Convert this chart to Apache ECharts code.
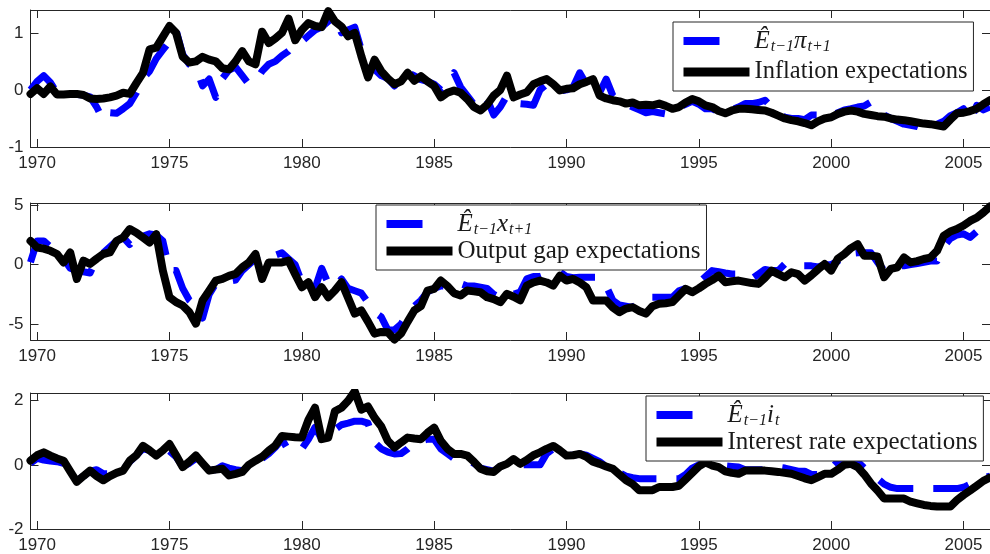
<!DOCTYPE html>
<html>
<head>
<meta charset="utf-8">
<script src="https://cdn.jsdelivr.net/npm/echarts@6/dist/echarts.min.js"></script>
<style>
  html, body { margin: 0; padding: 0; background: #fff; }
  #chart { width: 990px; height: 554px; }
</style>
</head>
<body>
<div id="chart"></div>
<script>
// quarterly observations, first one is 1969Q4 (1969.75), last 2006.0
const startYear = 1969.75;
const yearTicks = [1970, 1975, 1980, 1985, 1990, 1995, 2000, 2005];

// panel 1 : inflation
const infLag = [
  0.0,
  0.15, 0.25, 0.13, -0.05,
  -0.07, -0.08, -0.08, -0.09,
  -0.12, -0.3, -0.53, -0.4,
  -0.41, -0.33, -0.24, -0.05,
  0.2, 0.33, 0.55, 0.7,
  0.85, 1.05, 0.62, 0.45,
  0.4, 0.07, 0.19, -0.13,
  0.2, 0.35, 0.4, 0.25,
  0.1, 0.15, 0.33, 0.45,
  0.5, 0.6, 0.68, 0.82,
  0.85, 0.95, 1.05, 1.1,
  1.2, 1.3, 1.0, 1.05,
  1.1, 0.7, 0.5, 0.36,
  0.25, 0.2, 0.07, 0.2,
  0.3, 0.25, 0.18, 0.15,
  0.1, 0.0, 0.1, 0.3,
  0.05, -0.1, -0.25, -0.3,
  -0.16, -0.44, -0.3, -0.1,
  -0.2, -0.24, -0.25, -0.27,
  0.0, 0.1, 0.05, -0.02,
  0.0, 0.05, 0.3, 0.1,
  0.1, -0.05, 0.19, -0.1,
  -0.22, -0.25, -0.3, -0.35,
  -0.4, -0.38, -0.4, -0.42,
  -0.38, -0.3, -0.25, -0.2,
  -0.25, -0.33, -0.33, -0.38,
  -0.4, -0.35, -0.3, -0.24,
  -0.24, -0.22, -0.18, -0.3,
  -0.4, -0.48, -0.5, -0.5,
  -0.52, -0.44, -0.44, -0.44,
  -0.45, -0.4, -0.35, -0.33,
  -0.3, -0.28, -0.21, -0.3,
  -0.44, -0.5, -0.55, -0.6,
  -0.62, -0.64, -0.68, -0.7,
  -0.6, -0.55, -0.45, -0.4,
  -0.33, -0.55, -0.27, -0.35,
  -0.3
];
const infExp = [
  -0.07,
  0.03, -0.07, 0.06, -0.08,
  -0.08, -0.07, -0.07, -0.09,
  -0.15, -0.16, -0.15, -0.13,
  -0.1, -0.05, -0.07, 0.12,
  0.3, 0.71, 0.74, 0.93,
  1.12, 1.0, 0.58, 0.48,
  0.5, 0.58, 0.53, 0.5,
  0.38, 0.36, 0.5, 0.68,
  0.5, 0.45, 1.02, 0.82,
  0.9, 1.0, 1.25, 0.87,
  1.05, 1.17, 1.12, 1.1,
  1.38, 1.2, 1.11, 0.94,
  1.0, 0.59, 0.22, 0.53,
  0.33, 0.2, 0.1, 0.15,
  0.3, 0.16, 0.24, 0.15,
  0.07, -0.13, -0.05, -0.01,
  -0.05, -0.16, -0.3, -0.36,
  -0.26, -0.1, 0.0, 0.25,
  -0.13, -0.08, -0.04, 0.1,
  0.15, 0.19, 0.1, -0.01,
  0.02, 0.03, 0.1, 0.14,
  0.19, -0.1, -0.15, -0.18,
  -0.2, -0.24, -0.22, -0.27,
  -0.26, -0.27, -0.24, -0.28,
  -0.33, -0.3, -0.22, -0.16,
  -0.2, -0.27, -0.3, -0.37,
  -0.41, -0.36, -0.33, -0.33,
  -0.34, -0.35, -0.36, -0.4,
  -0.45, -0.5, -0.53, -0.55,
  -0.58, -0.62, -0.55, -0.5,
  -0.48, -0.42, -0.38, -0.36,
  -0.38, -0.42, -0.44, -0.46,
  -0.47, -0.5, -0.52, -0.53,
  -0.55, -0.57, -0.59, -0.6,
  -0.62, -0.64, -0.52, -0.41,
  -0.4, -0.37, -0.33, -0.25,
  -0.18
];

// panel 2 : output gap
const gapLag = [
  0.2,
  2.0, 2.0, 1.5, 1.0,
  0.5, -0.3, -0.5, -0.6,
  -0.7, 0.5, 1.0, 1.5,
  2.0, 2.3, 1.7, 2.6,
  2.4, 2.6, 2.5, 2.0,
  -0.5, -0.5, -2.0, -3.0,
  -3.5, -4.5, -2.5, -1.6,
  -1.5, -1.4, -1.3, -0.5,
  0.0, 0.5, 0.2, 0.5,
  0.8, 1.0, 0.5, 0.0,
  -1.5, -1.5, -2.0, -0.3,
  -1.6, -1.9, -1.2, -2.0,
  -2.2, -2.4, -3.2, -4.0,
  -4.4, -5.5, -5.5, -5.0,
  -4.1, -3.5, -3.0, -2.3,
  -2.0, -1.8, -1.8, -1.6,
  -1.6, -1.8, -1.8, -1.9,
  -2.0, -2.5, -2.8, -2.5,
  -2.5, -2.3, -1.2, -1.0,
  -1.0, -0.8, -0.7, -0.6,
  -1.0, -1.1, -1.06, -1.06,
  -1.06, -1.06, -1.8, -3.0,
  -3.4, -3.5, -3.6, -3.2,
  -2.74, -2.74, -2.74, -2.74,
  -2.74, -2.2, -2.0, -1.8,
  -1.5, -1.0, -0.5, -0.6,
  -0.7, -0.78, -0.78, -1.0,
  -1.2, -0.8, -0.4, -0.5,
  -0.5, 0.06, 0.0, -0.1,
  -0.1, -0.1, -0.2, 0.0,
  0.0, 0.3, 0.9, 0.95,
  1.0, 1.0, 1.0, 0.2,
  -0.5, -0.3, -0.1, -0.1,
  0.0, 0.1, 0.2, 0.3,
  0.3, 1.5, 2.2, 2.5,
  2.6, 2.3, 2.8, 3.3,
  3.6
];
const gapExp = [
  2.0,
  1.45, 1.35, 1.17, 0.9,
  0.19, 1.03, -1.2, 0.34,
  0.06, 0.5, 0.9, 1.03,
  2.0, 2.29, 3.0, 2.7,
  2.29, 1.87, 2.57, -0.5,
  -2.74, -3.16, -3.44, -4.0,
  -4.97, -3.02, -2.2, -1.34,
  -1.2, -0.95, -0.78, -0.22,
  0.19, 0.9, -1.2, 0.19,
  0.19, 0.19, 0.34, -0.8,
  -1.9, -1.48, -2.74, -1.9,
  -2.74, -2.18, -1.48, -2.8,
  -4.13, -3.86, -4.8, -5.81,
  -5.67, -5.7, -6.3, -5.81,
  -4.8, -3.86, -3.5, -2.18,
  -2.04, -1.34, -1.8, -2.4,
  -2.6, -2.18, -2.25, -2.32,
  -2.74, -2.9, -3.16, -2.46,
  -2.7, -3.0, -1.76, -1.5,
  -1.34, -1.5, -1.76, -0.92,
  -1.34, -1.2, -1.5, -1.9,
  -3.02, -3.02, -3.02, -3.6,
  -4.0, -3.7, -3.58, -3.9,
  -4.13, -3.5, -3.3, -3.25,
  -3.16, -2.6, -2.04, -2.32,
  -2.0, -1.62, -1.3, -0.92,
  -1.48, -1.4, -1.34, -1.45,
  -1.55, -1.62, -1.1, -0.5,
  -0.8, -1.06, -0.64, -0.8,
  -1.34, -0.9, -0.4, 0.06,
  -0.5, 0.5, 0.9, 1.4,
  1.73, 0.75, 0.75, 0.7,
  -1.06, -0.36, -0.22, 0.61,
  0.19, 0.3, 0.48, 0.6,
  1.17, 2.43, 2.8, 3.0,
  3.3, 3.69, 3.96, 4.4,
  4.9
];

// panel 3 : interest rate
const rateLag = [
  0.05,
  0.2, 0.15, 0.12, 0.1,
  0.05, -0.2, -0.5, -0.35,
  -0.2, -0.15, -0.28, -0.28,
  -0.2, -0.15, 0.1, 0.3,
  0.5, 0.45, 0.25, 0.3,
  0.43, 0.25, -0.05, 0.05,
  0.2, 0.05, -0.15, -0.15,
  -0.03, -0.1, -0.15, -0.18,
  -0.1, 0.05, 0.2, 0.35,
  0.55, 0.8, 0.44, 0.45,
  0.5, 0.8, 1.17, 0.8,
  0.95, 1.1, 1.25, 1.3,
  1.36, 1.36, 1.3, 0.7,
  0.5, 0.4, 0.34, 0.35,
  0.5, 0.7, 0.75, 0.8,
  0.8, 0.5, 0.35, 0.2,
  0.13, 0.15, 0.05, -0.1,
  -0.15, -0.2, -0.05, 0.03,
  0.03, 0.0, 0.0, 0.0,
  0.0, 0.35, 0.5, 0.4,
  0.3, 0.3, 0.34, 0.3,
  0.2, 0.1, -0.05, -0.12,
  -0.25, -0.35, -0.4, -0.43,
  -0.43, -0.43, -0.43, -0.43,
  -0.43, -0.43, -0.3, -0.1,
  0.0, 0.08, 0.05, 0.0,
  -0.03, -0.05, -0.07, -0.15,
  -0.15, -0.15, -0.15, -0.1,
  -0.07, -0.1, -0.15, -0.2,
  -0.2, -0.3, -0.3, -0.2,
  -0.1, 0.1, 0.25, 0.2,
  0.1, -0.1, -0.3, -0.43,
  -0.6, -0.7, -0.74, -0.74,
  -0.74, -0.74, -0.74, -0.74,
  -0.74, -0.74, -0.74, -0.74,
  -0.7, -0.6, -0.5, -0.4,
  -0.35
];
const rateExp = [
  0.13,
  0.3, 0.39, 0.29, 0.2,
  0.13, -0.2, -0.53, -0.35,
  -0.18, -0.35, -0.48, -0.35,
  -0.25, -0.18, 0.13, 0.3,
  0.59, 0.45, 0.29, 0.45,
  0.65, 0.3, -0.07, 0.1,
  0.29, 0.05, -0.18, -0.15,
  -0.12, -0.33, -0.28, -0.22,
  0.0, 0.13, 0.25, 0.44,
  0.6, 0.9, 0.88, 0.86,
  0.85, 1.4, 1.78, 0.8,
  0.85, 1.67, 1.78, 2.0,
  2.29, 1.72, 1.82, 1.47,
  1.2, 0.75, 0.54, 0.7,
  0.85, 0.82, 0.8, 1.0,
  1.16, 0.75, 0.5, 0.34,
  0.34, 0.29, 0.1, -0.12,
  -0.2, -0.22, -0.05, 0.03,
  0.18, 0.03, 0.15, 0.3,
  0.39, 0.5, 0.59, 0.45,
  0.29, 0.3, 0.34, 0.25,
  0.1, 0.03, -0.05, -0.12,
  -0.3, -0.48, -0.6, -0.79,
  -0.79, -0.79, -0.69, -0.69,
  -0.69, -0.65, -0.45, -0.25,
  -0.05, 0.08, -0.02, -0.07,
  -0.2, -0.25, -0.28, -0.18,
  -0.18, -0.18, -0.18, -0.2,
  -0.22, -0.25, -0.28, -0.35,
  -0.42, -0.48, -0.38, -0.28,
  -0.28, -0.15, 0.0, 0.03,
  -0.07, -0.3, -0.58, -0.8,
  -1.05, -1.05, -1.05, -1.05,
  -1.15, -1.2, -1.25, -1.28,
  -1.3, -1.3, -1.3, -1.1,
  -0.94, -0.8, -0.65, -0.5,
  -0.4
];

const panels = [
  { top: 10, height: 137, yMin: -1, yMax: 1.4, yTicks: [-1, 0, 1],
    lag: infLag, exp: infExp,
    lagName: 'Et1pi', expName: 'Inflation expectations',
    lagLabel: '{e|Ê}{s|t−1}{e|π}{s|t+1}', legLeft: 673, legTop: 22, gap: 4, font: 24.5 },
  { top: 203, height: 137, yMin: -6.35, yMax: 5.2, yTicks: [-5, 0, 5],
    lag: gapLag, exp: gapExp,
    lagName: 'Et1x', expName: 'Output gap expectations',
    lagLabel: '{e|Ê}{s|t−1}{e|x}{s|t+1}', legLeft: 376, legTop: 205, gap: 0, font: 25 },
  { top: 393, height: 137, yMin: -2, yMax: 2.24, yTicks: [-2, 0, 2],
    lag: rateLag, exp: rateExp,
    lagName: 'Et1i', expName: 'Interest rate expectations',
    lagLabel: '{e|Ê}{s|t−1}{e|i}{s|t}', legLeft: 646, legTop: 396, gap: 0, font: 25 }
];

function toPairs(arr) {
  return arr.map((v, i) => [startYear + i * 0.25, v]);
}

const axisColor = '#262626';
const labelFont = { fontFamily: 'Liberation Sans', fontSize: 17, color: axisColor };
const plainNum = v => String(v);

var grid = [], xAxis = [], yAxis = [], series = [], legend = [];
panels.forEach((p, k) => {
  grid.push({ left: 30.5, width: 963.5, top: p.top, height: p.height });
  const xBase = {
    gridIndex: k, type: 'value', min: startYear, max: 2006,
    splitLine: { show: false },
    axisLine: { onZero: false, lineStyle: { color: axisColor, width: 1 } },
    axisTick: { inside: true, length: 8, customValues: yearTicks, lineStyle: { color: axisColor } }
  };
  xAxis.push(Object.assign({}, xBase, {
    position: 'bottom',
    axisLabel: Object.assign({ customValues: yearTicks, margin: 8, formatter: plainNum }, labelFont)
  }));
  xAxis.push(Object.assign({}, xBase, { position: 'top', axisLabel: { show: false } }));
  const yBase = {
    gridIndex: k, type: 'value', min: p.yMin, max: p.yMax,
    splitLine: { show: false },
    axisLine: { onZero: false, lineStyle: { color: axisColor, width: 1 } },
    axisTick: { inside: true, length: 8, customValues: p.yTicks, lineStyle: { color: axisColor } }
  };
  yAxis.push(Object.assign({}, yBase, {
    position: 'left',
    axisLabel: Object.assign({ customValues: p.yTicks, margin: 7, formatter: plainNum }, labelFont)
  }));
  yAxis.push(Object.assign({}, yBase, { position: 'right', axisLabel: { show: false } }));

  series.push({
    name: p.lagName, type: 'line', xAxisIndex: 2 * k, yAxisIndex: 2 * k,
    data: toPairs(p.lag), symbol: 'none', showSymbol: false, z: 2,
    itemStyle: { color: '#0000ff' },
    lineStyle: { color: '#0000ff', width: 7, type: [36, 20], cap: 'butt', join: 'round' }
  });
  series.push({
    name: p.expName, type: 'line', xAxisIndex: 2 * k, yAxisIndex: 2 * k,
    data: toPairs(p.exp), symbol: 'none', showSymbol: false, z: 3,
    itemStyle: { color: '#000000' },
    lineStyle: { color: '#000000', width: 8, cap: 'round', join: 'round' }
  });

  legend.push({
    orient: 'vertical', left: p.legLeft, top: p.legTop,
    padding: [6, 6, 6, 6], itemGap: p.gap, itemWidth: 66, itemHeight: 26,
    borderColor: axisColor, borderWidth: 1, borderRadius: 0, backgroundColor: '#fff',
    selectedMode: false,
    data: [
      { name: p.lagName, itemStyle: { opacity: 0 },
        lineStyle: { color: '#0000ff', width: 8, type: [36, 60], cap: 'butt' } },
      { name: p.expName, itemStyle: { opacity: 0 },
        lineStyle: { color: '#000000', width: 9, type: 'solid', cap: 'butt' } }
    ],
    formatter: function (name) {
      return name === p.lagName ? p.lagLabel : name;
    },
    textStyle: {
      fontFamily: 'Liberation Serif', fontSize: p.font, color: '#1a1a1a', lineHeight: 26,
      rich: {
        e: { fontFamily: 'Liberation Serif', fontStyle: 'italic', fontSize: 25, color: '#1a1a1a' },
        s: { fontFamily: 'Liberation Serif', fontStyle: 'italic', fontSize: 16, color: '#1a1a1a', padding: [12, 0, 0, 1] }
      }
    }
  });
});

var chart = echarts.init(document.getElementById('chart'), null, { renderer: 'canvas' });
chart.setOption({
  animation: false,
  backgroundColor: '#fff',
  grid: grid,
  xAxis: xAxis,
  yAxis: yAxis,
  legend: legend,
  series: series
});
</script>
</body>
</html>
